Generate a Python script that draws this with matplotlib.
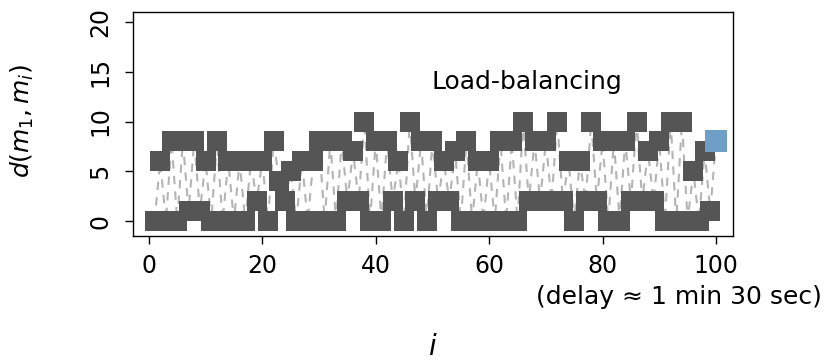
import numpy as np
import matplotlib
matplotlib.use('Agg')
import matplotlib.pyplot as plt

# distances d(m_1, m_i) for i = 1..100, the last one is highlighted
idx = list(range(1, 101))
dist = [0, 6, 0, 8, 0, 8, 1, 8, 1, 6,
        0, 8, 0, 6, 0, 6, 0, 6, 2, 6,
        0, 8, 4, 2, 5, 0, 6, 0, 6, 8,
        0, 8, 0, 8, 2, 7, 2, 10, 0, 8,
        0, 8, 2, 6, 0, 10, 2, 8, 0, 8,
        2, 6, 2, 7, 0, 8, 0, 6, 0, 6,
        0, 8, 0, 8, 0, 10, 2, 8, 2, 8,
        2, 10, 2, 6, 0, 6, 2, 10, 2, 8,
        0, 8, 0, 8, 2, 10, 2, 7, 2, 8,
        0, 10, 0, 10, 0, 5, 0, 7, 1, 8]

title_txt = 'Load-balancing'
note_txt = '(delay \u2248 1 min 30 sec)'

plt.rcParams['font.family'] = ['DejaVu Sans']
plt.rcParams['mathtext.fontset'] = 'dejavusans'

fig = plt.figure(figsize=(8.27, 3.61), dpi=100)
ax = fig.add_axes([133 / 827, 1 - 236 / 361, 600 / 827, 224 / 361])

# dashed connection between consecutive points
ax.plot(idx, dist, color='#b4b4b4', linestyle=(0, (4, 3.5)), linewidth=1.5, zorder=1)
# grey squares, last point in blue
ax.plot(idx[:-1], dist[:-1], linestyle='none', marker='s', markersize=14.5,
        color='#555555', markeredgewidth=0, zorder=2)
ax.plot(idx[-1:], dist[-1:], linestyle='none', marker='s', markersize=16,
        color='#6f9fc6', markeredgewidth=0, zorder=3)

ax.set_xlim(-2.8, 103)
ax.set_ylim(-1.5, 21)
ax.set_xticks([0, 20, 40, 60, 80, 100])
ax.set_yticks([0, 5, 10, 15, 20])
ax.set_yticklabels(['0', '5', '10', '15', '20'], rotation=90, va='center')
ax.tick_params(direction='out', length=6, width=1, labelsize=17)
ax.tick_params(axis='x', pad=7)
ax.tick_params(axis='y', pad=9)
for s in ax.spines.values():
    s.set_linewidth(1)

fig.text(527 / 827, 1 - 82 / 361, title_txt, ha='center', va='center', fontsize=18)
fig.text(822 / 827, 1 - 297 / 361, note_txt, ha='right', va='center', fontsize=18)
fig.text(433 / 827, 1 - 347 / 361, '$i$', ha='center', va='center', fontsize=20)
fig.text(22 / 827, 1 - 121 / 361, '$d(m_1, m_i)$', ha='center', va='center',
         rotation=90, fontsize=18)

fig.savefig('out.png', dpi=100)
